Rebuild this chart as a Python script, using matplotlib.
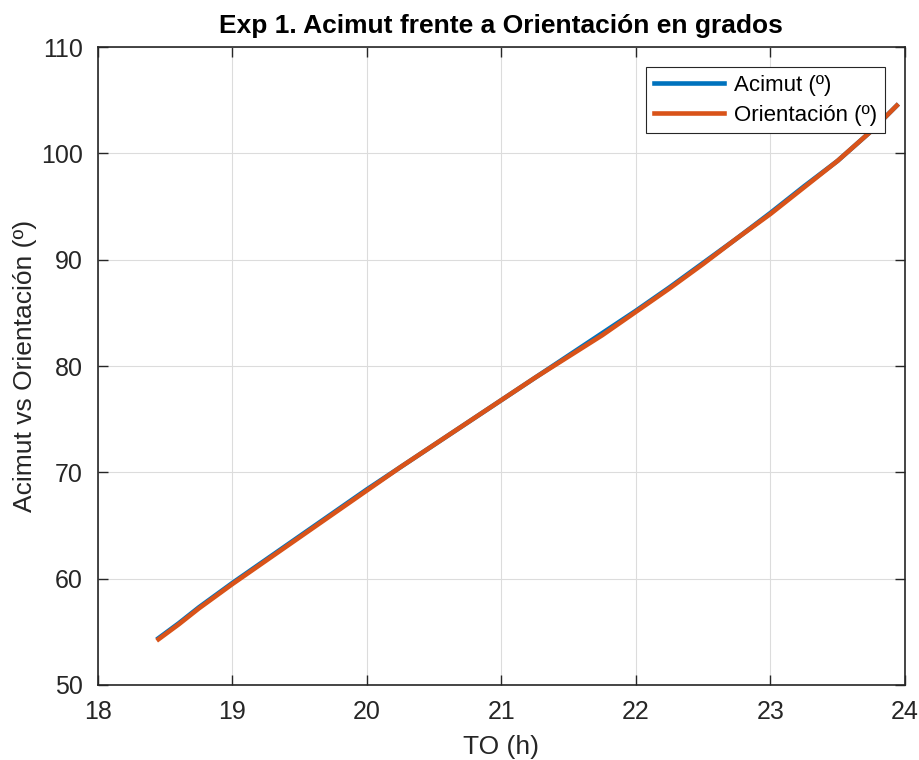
import matplotlib.pyplot as plt

# Hora (h) y ángulos medidos
to_h = [18.45, 18.6, 18.75, 19.0, 19.25, 19.5, 19.75, 20.0, 20.25, 20.5, 20.75, 21.0,
        21.25, 21.5, 21.75, 22.0, 22.25, 22.5, 22.75, 23.0, 23.25, 23.5, 23.75, 23.94]
acimut = [54.4, 55.8, 57.3, 59.6, 61.8, 64.0, 66.2, 68.4, 70.5, 72.6, 74.7, 76.8,
          78.9, 81.0, 83.1, 85.2, 87.4, 89.7, 92.0, 94.4, 96.9, 99.3, 102.1, 104.5]
orientacion = [54.3, 55.7, 57.2, 59.5, 61.7, 63.9, 66.1, 68.3, 70.5, 72.6, 74.7, 76.8,
               78.9, 80.9, 82.9, 85.1, 87.3, 89.6, 92.0, 94.3, 96.8, 99.3, 102.1, 104.5]

plt.rcParams['font.family'] = ['Liberation Sans', 'DejaVu Sans']

fig = plt.figure(figsize=(9.2, 7.6), dpi=100)
ax = fig.add_axes([0.1065, 0.0987, 0.877, 0.8393])

ax.plot(to_h, acimut, color='#0072BD', linewidth=3.3, label='Acimut (º)')
ax.plot(to_h, orientacion, color='#D95319', linewidth=3.3, label='Orientación (º)')

ax.set_xlim(18, 24)
ax.set_ylim(50, 110)
ax.set_xticks(range(18, 25))
ax.set_yticks(range(50, 111, 10))
ax.grid(True, color='#dcdcdc', linewidth=0.8)
ax.tick_params(direction='in', top=True, right=True, labelsize=18, length=7,
               width=1, colors='#262626')
ax.tick_params(axis='x', pad=11)
ax.tick_params(axis='y', pad=11)
for s in ax.spines.values():
    s.set_color('#262626')
    s.set_linewidth(1.2)

ax.set_xlabel('TO (h)', fontsize=19, color='#262626', labelpad=8)
ax.set_ylabel('Acimut vs Orientación (º)', fontsize=19, color='#262626', labelpad=3)
ax.set_title('Exp 1. Acimut frente a Orientación en grados', fontsize=19,
             fontweight='bold', pad=10)

leg = ax.legend(loc='upper right', bbox_to_anchor=(0.975, 0.969), fontsize=16,
                fancybox=False, framealpha=1, edgecolor='#262626',
                handlelength=3.15, handletextpad=0.45, borderpad=0.35,
                labelspacing=0.4, borderaxespad=0)
leg.get_frame().set_linewidth(0.8)

fig.savefig('out.png', dpi=100)
